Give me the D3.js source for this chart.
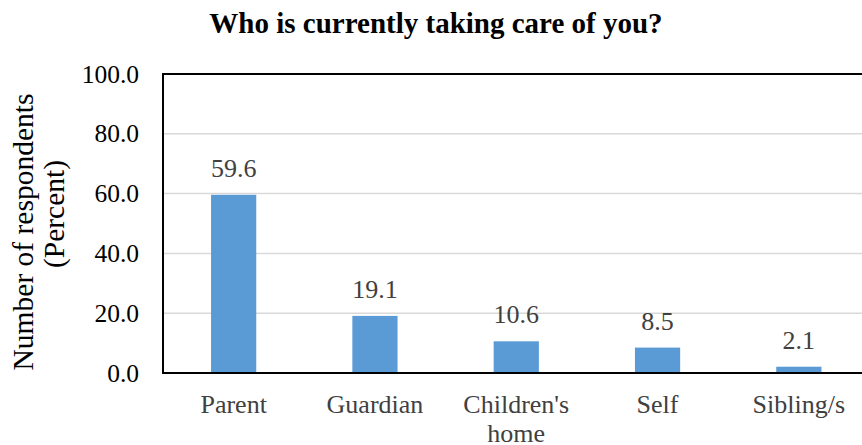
<!DOCTYPE html>
<html><head><meta charset="utf-8">
<script src="https://cdn.jsdelivr.net/npm/d3@7"></script>
<style>body{margin:0;background:#fff}svg{display:block}</style>
</head><body>
<svg id="c" width="862" height="445"></svg>
<script>
const categories = [["Parent"], ["Guardian"], ["Children's", "home"], ["Self"], ["Sibling/s"]];
const values = [59.6, 19.1, 10.6, 8.5, 2.1];
const yTicks = [0, 20, 40, 60, 80, 100];

(function() {
const svg = d3.select("#c");
const font = "'Liberation Serif','Times New Roman',serif";
const pLeft = 163, pRight = 869.5, pTop = 74, pBottom = 373;
const keys = categories.map(c => c.join(" "));
const x = d3.scaleBand().domain(keys).range([pLeft, pRight]).paddingInner(0.68).paddingOuter(0.34);
const y = d3.scaleLinear().domain([0, 100]).range([pBottom, pTop]);

// gridlines
svg.append("g").selectAll("line").data(yTicks.filter(t => t > 0 && t < 100)).join("line")
  .attr("x1", pLeft).attr("x2", 862).attr("y1", d => y(d)).attr("y2", d => y(d))
  .attr("stroke", "#d9d9d9").attr("stroke-width", 1.5);

// bars
svg.append("g").selectAll("rect").data(values).join("rect")
  .attr("x", (d, i) => x(keys[i])).attr("width", x.bandwidth())
  .attr("y", d => y(d)).attr("height", d => pBottom - y(d))
  .attr("fill", "#5b9bd5");

// frame lines
svg.append("line").attr("x1", pLeft).attr("x2", 862).attr("y1", pTop).attr("y2", pTop).attr("stroke", "#000").attr("stroke-width", 2);
svg.append("line").attr("x1", pLeft).attr("x2", 862).attr("y1", pBottom).attr("y2", pBottom).attr("stroke", "#000").attr("stroke-width", 2);
svg.append("line").attr("x1", pLeft).attr("x2", pLeft).attr("y1", pTop - 1).attr("y2", pBottom + 1).attr("stroke", "#000").attr("stroke-width", 2);

// y tick labels
svg.append("g").selectAll("text").data(yTicks).join("text")
  .attr("x", 139).attr("y", d => y(d)).attr("dy", "0.34em")
  .attr("text-anchor", "end").attr("font-family", font).attr("font-size", 25.5).attr("fill", "#000")
  .text(d => d3.format(".1f")(d));

// value labels
svg.append("g").selectAll("text").data(values).join("text")
  .attr("x", (d, i) => x(keys[i]) + x.bandwidth() / 2).attr("y", d => y(d) - 18)
  .attr("text-anchor", "middle").attr("font-family", font).attr("font-size", 26).attr("fill", "#404040")
  .text(d => d3.format(".1f")(d));

// category labels
const cat = svg.append("g").selectAll("text").data(categories).join("text")
  .attr("text-anchor", "middle").attr("font-family", font).attr("font-size", 26).attr("fill", "#404040");
cat.each(function(lines, i) {
  const cx = x(keys[i]) + x.bandwidth() / 2;
  d3.select(this).selectAll("tspan").data(lines).join("tspan")
    .attr("x", cx).attr("y", (l, j) => 413 + j * 29).text(l => l);
});

// y axis title
svg.append("text").attr("transform", "translate(33,232) rotate(-90)")
  .attr("text-anchor", "middle").attr("font-family", font).attr("font-size", 29.5).attr("fill", "#000")
  .text("Number of respondents");
svg.append("text").attr("transform", "translate(64,214) rotate(-90)")
  .attr("text-anchor", "middle").attr("font-family", font).attr("font-size", 29.5).attr("fill", "#000")
  .text("(Percent)");

// title
svg.append("text").attr("x", 436).attr("y", 33).attr("text-anchor", "middle")
  .attr("font-family", font).attr("font-size", 29).attr("font-weight", "bold").attr("fill", "#000")
  .text("Who is currently taking care of you?");
})();
</script>
</body></html>
